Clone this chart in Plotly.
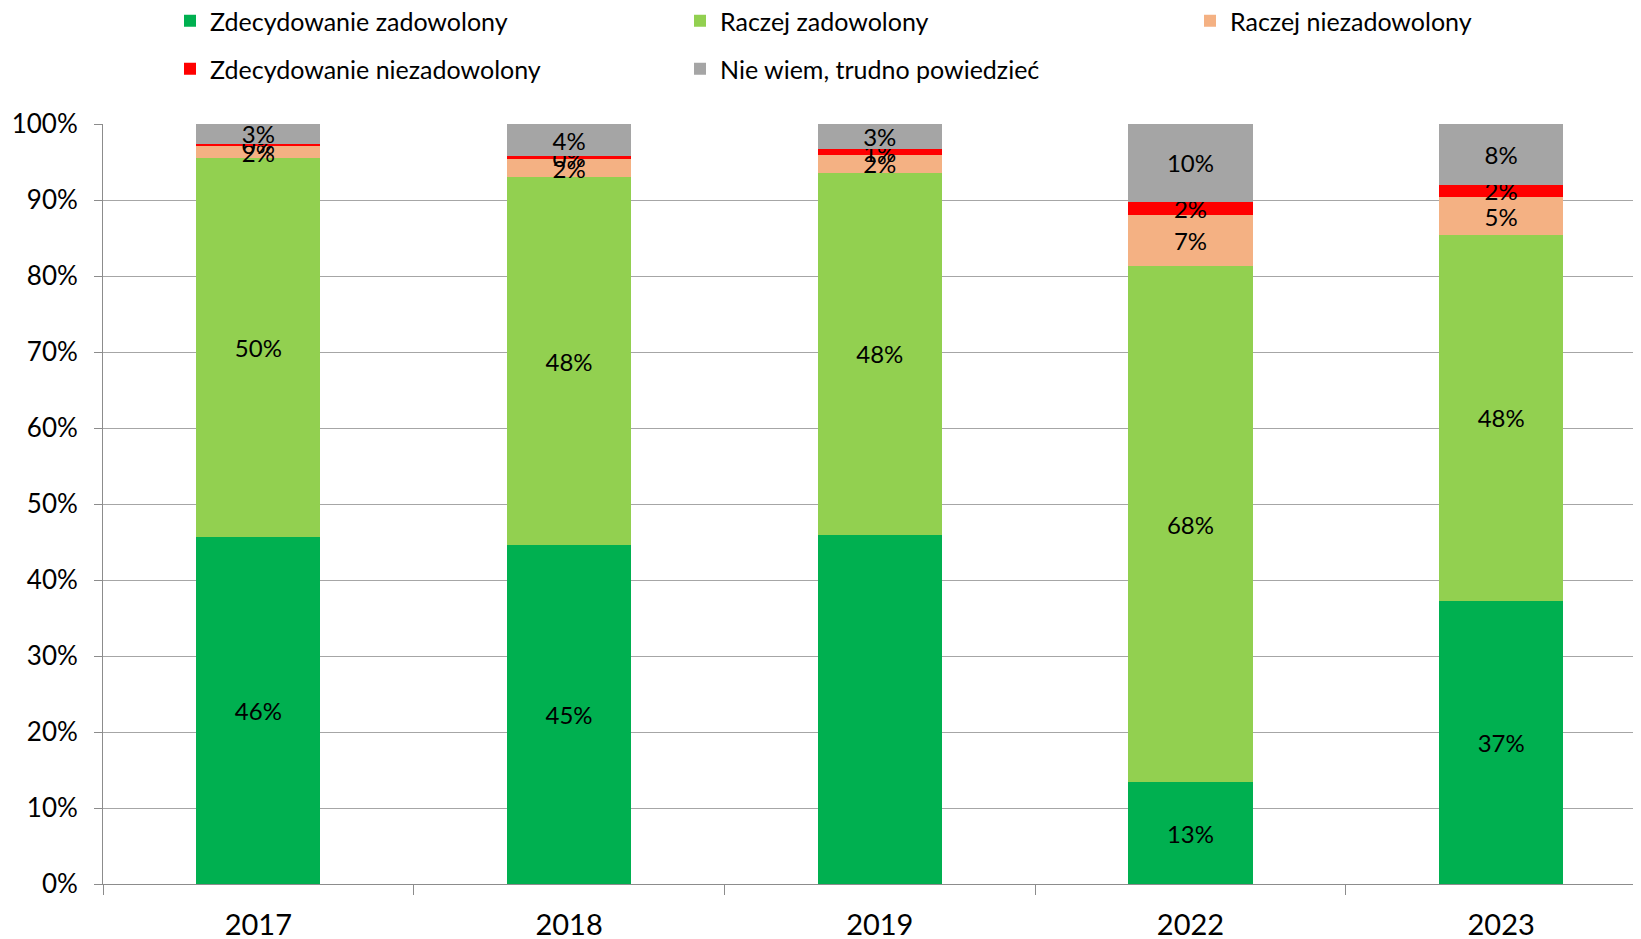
import plotly.graph_objects as go

years = ["2017", "2018", "2019", "2022", "2023"]
series_names = [
    "Zdecydowanie zadowolony",
    "Raczej zadowolony",
    "Raczej niezadowolony",
    "Zdecydowanie niezadowolony",
    "Nie wiem, trudno powiedzieć",
]
zdec_zad = [45.6, 44.6, 45.9, 13.4, 37.3]
raczej_zad = [49.9, 48.4, 47.7, 67.9, 48.1]
raczej_niezad = [1.6, 2.4, 2.3, 6.7, 5.0]
zdec_niezad = [0.3, 0.4, 0.8, 1.8, 1.6]
nie_wiem = [2.6, 4.2, 3.3, 10.2, 8.0]
y_tick_vals = [0, 10, 20, 30, 40, 50, 60, 70, 80, 90, 100]
y_tick_text = ["0%", "10%", "20%", "30%", "40%", "50%", "60%", "70%", "80%", "90%", "100%"]
# labels shown on the chart (2019 "Zdecydowanie zadowolony" has no label)
show_label = {
    0: [True, True, False, True, True],
}
colors = ["#00B050", "#92D050", "#F4B183", "#FF0000", "#A5A5A5"]
all_values = [zdec_zad, raczej_zad, raczej_niezad, zdec_niezad, nie_wiem]

# the page body has an 8px margin: the figure is sized/offset to compensate
OFF = 8
W, H = 1641 - OFF, 939 - OFF

FONT = "Lato"
fig = go.Figure()
for i, (name, vals, col) in enumerate(zip(series_names, all_values, colors)):
    flags = show_label.get(i, [True] * len(vals))
    texts = [f"{round(v)}%" if f else "" for v, f in zip(vals, flags)]
    fig.add_trace(go.Bar(
        x=years, y=vals, name=name, marker=dict(color=col, line=dict(width=0)),
        width=0.4, text=texts, textposition="inside", insidetextanchor="middle",
        textangle=0, constraintext="none", cliponaxis=False,
        textfont=dict(family=FONT, size=24, color="black"),
        legend="legend" if i < 3 else "legend2",
        hoverinfo="skip",
    ))

legend_common = dict(
    orientation="h", xref="container", yref="container", xanchor="left",
    yanchor="middle", entrywidth=465, entrywidthmode="pixels",
    font=dict(family=FONT, size=25, color="black"), bgcolor="rgba(0,0,0,0)",
    traceorder="normal", itemclick=False, itemdoubleclick=False,
)
fig.update_layout(
    barmode="stack",
    width=W, height=H,
    margin=dict(l=103 - OFF, r=0, t=124 - OFF, b=939 - 884, autoexpand=False),
    plot_bgcolor="white", paper_bgcolor="white",
    font=dict(family=FONT, color="black"),
    uniformtext=dict(minsize=24, mode="show"),
    legend=dict(x=(170 - OFF) / W, y=1 - (21 - OFF) / H, **legend_common),
    legend2=dict(x=(170 - OFF) / W, y=1 - (69 - OFF) / H, **legend_common),
    bargap=0.6,
)
fig.update_xaxes(
    type="category", range=[-0.5, 4.45], showline=True, linecolor="#8C8C8C",
    linewidth=1, ticks="outside", tickson="boundaries", ticklen=10,
    tickcolor="#8C8C8C", showgrid=False, ticklabelstandoff=15, automargin=False,
    tickfont=dict(family=FONT, size=29, color="black"),
)
fig.update_yaxes(
    range=[0, 100.01], tickvals=y_tick_vals, ticktext=y_tick_text,
    showline=True, linecolor="#8C8C8C", automargin=False,
    linewidth=1, ticks="outside", ticklen=8, tickcolor="#8C8C8C",
    showgrid=True, gridcolor="#A6A6A6", gridwidth=1, zeroline=False,
    ticklabelstandoff=11, tickfont=dict(family=FONT, size=26, color="black"),
)
fig.write_html("out.html")
